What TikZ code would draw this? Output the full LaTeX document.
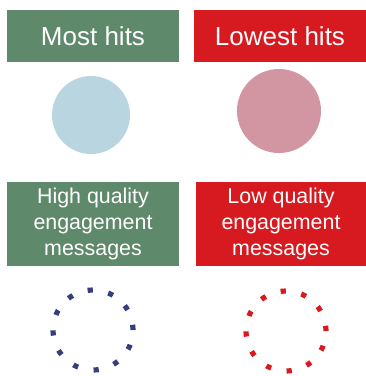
\documentclass[tikz,border=0pt]{standalone}
\usepackage{fontspec}
\setmainfont{Liberation Sans}
\definecolor{hitgreen}{HTML}{5E8A6B}
\definecolor{hitred}{HTML}{D71920}
\definecolor{softblue}{HTML}{B8D5E0}
\definecolor{softpink}{HTML}{D296A3}
\definecolor{dotnavy}{HTML}{363F7A}
\begin{document}
\begin{tikzpicture}[x=1pt,y=-1pt]

        \useasboundingbox (0,0) rectangle (366,376);

        \begin{scope}[every node/.style={rectangle,text=white,inner sep=0pt,
            minimum height=52pt,minimum width=172pt,align=center,
            font=\fontsize{26}{31}\selectfont}]
          \node[fill=hitgreen] (most)   at (93,36)  {Most hits};
          \node[fill=hitred]   (lowest) at (280,36) {Lowest hits};
        \end{scope}

        \begin{scope}[every node/.style={rectangle,text=white,inner sep=0pt,
            minimum height=84pt,minimum width=172pt,align=center,
            font=\fontsize{21.4}{25.8}\selectfont}]
          \node[fill=hitgreen] (high) at (93,224)  {High quality\\engagement\\messages};
          \node[fill=hitred,minimum width=170pt] (low) at (281,224) {Low quality\\engagement\\messages};
        \end{scope}

        \begin{scope}[every node/.style={circle,inner sep=0pt}]
          \node[fill=softblue,minimum size=78pt] (blue) at (91,115)  {};
          \node[fill=softpink,minimum size=84pt] (pink) at (279,111) {};
        \end{scope}

        \begin{scope}[every node/.style={circle,inner sep=0pt,minimum size=80pt,
            line width=5.2pt,dash pattern=on 5.2pt off 15.8pt}]
          \node[draw=dotnavy] (ringhigh) at (93,330)  {};
          \node[draw=hitred]  (ringlow)  at (286,331) {};
        \end{scope}

      \end{tikzpicture}
\end{document}
